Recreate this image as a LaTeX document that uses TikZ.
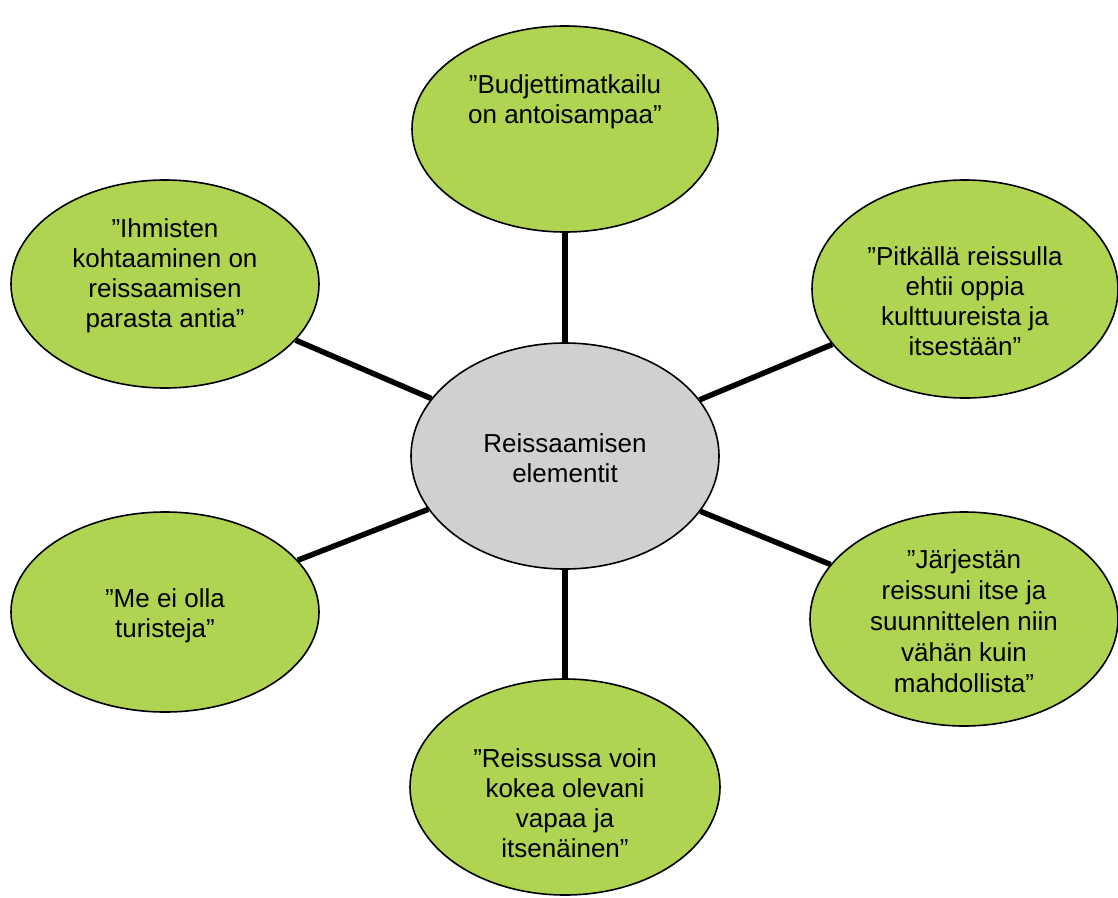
\documentclass[tikz,border=0pt]{standalone}
\usepackage{fontspec}
\setmainfont{Liberation Sans}
\usetikzlibrary{shapes.geometric}
\definecolor{leaf}{RGB}{174,212,82}
\definecolor{hub}{RGB}{208,208,208}
\tikzset{
  bubble/.style={ellipse, draw=black, line width=1.6pt, fill=leaf, inner sep=0pt},
  hubnode/.style={bubble, fill=hub},
  words/.style={anchor=north, inner sep=0pt, align=center, text=black,
    font=\fontsize{26}{30}\selectfont},
  spoke/.style={line width=5.5pt, black}
}
\begin{document}
\begin{tikzpicture}[x=1pt,y=-1pt]
\useasboundingbox (0,0) rectangle (1118,897);
\node[hubnode, minimum width=308pt, minimum height=226pt] (c) at (565,456) {};
\node[bubble, minimum width=306pt, minimum height=206pt] (t) at (565,129) {};
\node[bubble, minimum width=306pt, minimum height=218pt] (ur) at (965,289) {};
\node[bubble, minimum width=308pt, minimum height=208pt] (ul) at (165,284) {};
\node[bubble, minimum width=308pt, minimum height=200pt] (ll) at (165,612) {};
\node[bubble, minimum width=308pt, minimum height=214pt] (lr) at (964,619) {};
\node[bubble, minimum width=310pt, minimum height=216pt] (b) at (565,787) {};
\node[words] (c-text) at (565,433) {Reissaamisen\\elementit};
\node[words] (t-text) at (565,74) {”Budjettimatkailu\\on antoisampaa”};
\node[words] (ur-text) at (965,246) {”Pitkällä reissulla\\ehtii oppia\\kulttuureista ja\\itsestään”};
\node[words] (ul-text) at (165,218) {”Ihmisten\\kohtaaminen on\\reissaamisen\\parasta antia”};
\node[words] (ll-text) at (165,588) {”Me ei olla\\turisteja”};
\node[words, font=\fontsize{26}{31}\selectfont] (lr-text) at (964,549) {”Järjestän\\reissuni itse ja\\suunnittelen niin\\vähän kuin\\mahdollista”};
\node[words] (b-text) at (565,748) {”Reissussa voin\\kokea olevani\\vapaa ja\\itsenäinen”};
\draw[spoke] (c) -- (t);
\draw[spoke] (c) -- (ur);
\draw[spoke] (c) -- (ul);
\draw[spoke] (c) -- (ll);
\draw[spoke] (c) -- (lr);
\draw[spoke] (c) -- (b);
\end{tikzpicture}
\end{document}
